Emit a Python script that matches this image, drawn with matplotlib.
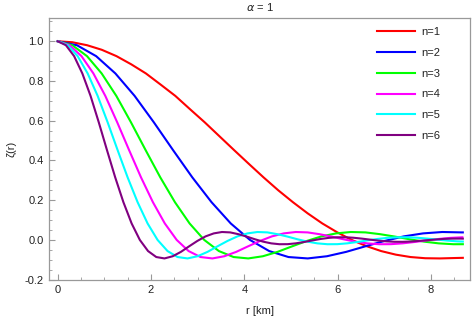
import matplotlib
matplotlib.use('Agg')
import matplotlib.pyplot as plt
from matplotlib.ticker import MultipleLocator, FormatStrFormatter

plt.rcParams['font.family'] = ['Liberation Sans', 'DejaVu Sans']
plt.rcParams['mathtext.fontset'] = 'dejavusans'

# valores: r [km] y zeta(r) para cada n
radioN1 = [0, 0.315, 0.63, 0.945, 1.26, 1.575, 1.89, 2.205, 2.52, 2.835, 3.15, 3.465, 3.78, 4.095,
           4.41, 4.725, 5.04, 5.355, 5.67, 5.985, 6.3, 6.615, 6.93, 7.245, 7.56, 7.875, 8.19, 8.505, 8.68]
zetaN1 = [1.0, 0.995, 0.980, 0.957, 0.925, 0.884, 0.838, 0.782, 0.725, 0.658, 0.592, 0.522, 0.452, 0.383,
          0.315, 0.250, 0.190, 0.134, 0.083, 0.039, 0.0, -0.031, -0.056, -0.074, -0.086, -0.092, -0.093, -0.091, -0.090]

radioN2 = [0, 0.412, 0.824, 1.236, 1.648, 2.06, 2.472, 2.884, 3.296, 3.708, 4.12, 4.532, 4.944, 5.356,
           5.768, 6.18, 6.592, 7.004, 7.416, 7.828, 8.24, 8.652, 8.68]
zetaN2 = [1.0, 0.980, 0.925, 0.838, 0.725, 0.592, 0.452, 0.315, 0.190, 0.083, 0.0, -0.056, -0.086, -0.093,
          -0.082, -0.060, -0.032, -0.005, 0.018, 0.033, 0.040, 0.038, 0.038]

radioN3 = [0, 0.314, 0.628, 0.942, 1.256, 1.57, 1.884, 2.198, 2.512, 2.826, 3.14, 3.454, 3.768, 4.082,
           4.396, 4.71, 5.024, 5.338, 5.652, 5.966, 6.28, 6.594, 6.908, 7.222, 7.536, 7.85, 8.164, 8.478, 8.68]
zetaN3 = [1.0, 0.980, 0.925, 0.838, 0.725, 0.592, 0.452, 0.315, 0.190, 0.083, 0.0, -0.056, -0.086, -0.093,
          -0.082, -0.060, -0.032, -0.005, 0.018, 0.033, 0.040, 0.038, 0.029, 0.017, 0.0035, -0.0085, -0.0172,
          -0.0215, -0.0214]

radioN4 = [0, 0.255, 0.51, 0.765, 1.02, 1.275, 1.53, 1.785, 2.04, 2.295, 2.55, 2.805, 3.06, 3.315, 3.57,
           3.825, 4.08, 4.335, 4.59, 4.845, 5.1, 5.355, 5.61, 5.865, 6.12, 6.375, 6.63, 6.885, 7.14, 7.395,
           7.65, 7.905, 8.16, 8.415, 8.67]
zetaN4 = [1.0, 0.980, 0.925, 0.838, 0.725, 0.592, 0.452, 0.315, 0.190, 0.083, 0.0, -0.056, -0.086, -0.093,
          -0.082, -0.060, -0.032, -0.005, 0.018, 0.033, 0.040, 0.038, 0.029, 0.017, 0.0035, -0.0085, -0.0172,
          -0.0215, -0.0212, -0.017, -0.0102, -0.0024, 0.0049, 0.0105, 0.0134]

radioN5 = [0, 0.214, 0.428, 0.642, 0.856, 1.07, 1.284, 1.498, 1.712, 1.926, 2.14, 2.354, 2.568, 2.782,
           2.996, 3.21, 3.424, 3.638, 3.852, 4.066, 4.28, 4.494, 4.708, 4.922, 5.136, 5.35, 5.564, 5.778,
           5.992, 6.206, 6.42, 6.634, 6.848, 7.062, 7.276, 7.49, 7.704, 7.918, 8.132, 8.346, 8.56, 8.68]
zetaN5 = [1.0, 0.980, 0.925, 0.838, 0.725, 0.592, 0.452, 0.315, 0.190, 0.083, 0.0, -0.056, -0.086, -0.093,
          -0.082, -0.060, -0.032, -0.005, 0.018, 0.033, 0.040, 0.038, 0.029, 0.017, 0.0035, -0.0085, -0.0172,
          -0.0215, -0.0212, -0.017, -0.0102, -0.0024, 0.0049, 0.0105, 0.0134, 0.0136, 0.0111, 0.0068, 0.0017,
          -0.0032, -0.0071, -0.0082]

radioN6 = [0, 0.176, 0.352, 0.528, 0.704, 0.88, 1.056, 1.232, 1.408, 1.584, 1.76, 1.936, 2.112, 2.288,
           2.464, 2.64, 2.816, 2.992, 3.168, 3.344, 3.52, 3.696, 3.872, 4.048, 4.224, 4.4, 4.576, 4.752,
           4.928, 5.104, 5.28, 5.456, 5.632, 5.808, 5.984, 6.16, 6.336, 6.512, 6.688, 6.864, 7.04, 7.216,
           7.392, 7.568, 7.744, 7.92, 8.096, 8.272, 8.448, 8.624, 8.68]
zetaN6 = [1.0, 0.980, 0.925, 0.838, 0.725, 0.592, 0.452, 0.315, 0.190, 0.083, 0.0, -0.056, -0.086, -0.093,
          -0.082, -0.060, -0.032, -0.005, 0.018, 0.033, 0.040, 0.038, 0.029, 0.017, 0.0035, -0.0085, -0.0172,
          -0.0215, -0.0212, -0.017, -0.0102, -0.0024, 0.0049, 0.0105, 0.0134, 0.0136, 0.0111, 0.0068, 0.0017,
          -0.0032, -0.0071, -0.0092, -0.0094, -0.0078, -0.0048, -0.0012, 0.0022, 0.0052, 0.0067, 0.0069, 0.0066]

etiquetas = ['n=1', 'n=2', 'n=3', 'n=4', 'n=5', 'n=6']
colores = ['#ff0000', '#0000ff', '#00ff00', '#ff00ff', '#00ffff', '#800080']

radios = [radioN1, radioN2, radioN3, radioN4, radioN5, radioN6]
zetas = [zetaN1, zetaN2, zetaN3, zetaN4, zetaN5, zetaN6]

fig = plt.figure(figsize=(4.74, 3.17), dpi=100)
ax = fig.add_axes([0.104, 0.1177, 0.8876, 0.8255])

for r, z, c, et in zip(radios, zetas, colores, etiquetas):
    ax.plot(r, z, color=c, lw=1.5, label=et, solid_joinstyle='round')

ax.set_xlim(-0.18, 8.834)
ax.set_ylim(-0.2, 1.117)
ax.xaxis.set_major_locator(MultipleLocator(2))
ax.xaxis.set_minor_locator(MultipleLocator(0.5))
ax.yaxis.set_major_locator(MultipleLocator(0.2))
ax.yaxis.set_minor_locator(MultipleLocator(0.05))
ax.yaxis.set_major_formatter(FormatStrFormatter('%.1f'))

gris = '#999999'
ax.tick_params(which='both', direction='in', color=gris, top=False, right=False,
               labelsize=8, labelcolor='#222222')
ax.tick_params(which='major', length=4, width=0.8, pad=4)
ax.tick_params(which='minor', length=2, width=0.6)
for lado in ax.spines.values():
    lado.set_color(gris)
    lado.set_linewidth(0.9)

#personalizando el grafico
ax.set_xlabel('r [km]', fontsize=8, color='#222222', labelpad=8)
ax.set_ylabel('ζ(r)', fontsize=8, color='#222222', labelpad=6)
ax.set_title(r'$\alpha$ = 1', fontsize=8, color='#222222', pad=5)

ax.legend(loc='upper left', bbox_to_anchor=(0.779, 0.965), frameon=False, fontsize=8,
          handlelength=3.4, handletextpad=0.6, labelspacing=0.97, borderaxespad=0, borderpad=0,
          labelcolor='#222222')

fig.savefig('out.png', dpi=100)
